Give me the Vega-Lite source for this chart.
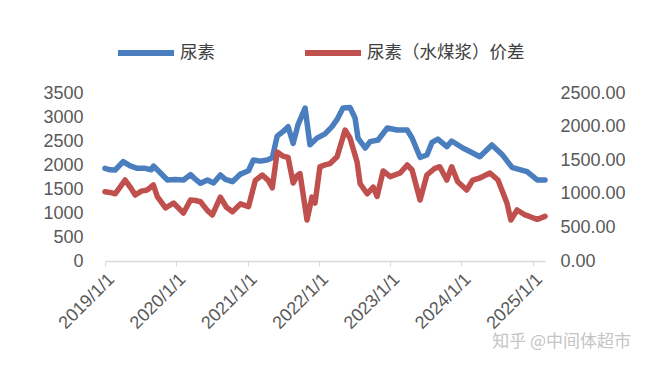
{
  "$schema": "https://vega.github.io/schema/vega-lite/v6.json",
  "width": 440,
  "height": 168,
  "autosize": "none",
  "padding": {"left": 105, "top": 93, "right": 104, "bottom": 106},
  "background": "white",
  "config": {"view": {"stroke": null}, "font": "Liberation Sans"},
  "title": {"text": "知乎 @中间体超市", "orient": "bottom", "anchor": "end", "frame": "bounds", "font": "Noto Sans CJK SC", "fontSize": 17, "fontWeight": "normal", "color": "#c4c4c4", "offset": 2, "dx": 6},
  "datasets": {
    "urea": [
      {"date": "2019-01-01", "value": 1930}, {"date": "2019-01-27", "value": 1900}, {"date": "2019-02-22", "value": 1896},
      {"date": "2019-04-04", "value": 2069}, {"date": "2019-05-10", "value": 1980}, {"date": "2019-06-15", "value": 1931},
      {"date": "2019-07-26", "value": 1930}, {"date": "2019-08-26", "value": 1900}, {"date": "2019-09-06", "value": 1979},
      {"date": "2019-10-01", "value": 1880}, {"date": "2019-11-17", "value": 1688}, {"date": "2019-12-28", "value": 1700},
      {"date": "2020-02-07", "value": 1688}, {"date": "2020-03-14", "value": 1800}, {"date": "2020-04-09", "value": 1700},
      {"date": "2020-05-04", "value": 1620}, {"date": "2020-06-09", "value": 1688}, {"date": "2020-07-10", "value": 1625},
      {"date": "2020-08-14", "value": 1792}, {"date": "2020-09-09", "value": 1700}, {"date": "2020-10-15", "value": 1652},
      {"date": "2020-11-25", "value": 1810}, {"date": "2021-01-05", "value": 1880}, {"date": "2021-01-30", "value": 2104},
      {"date": "2021-03-07", "value": 2080}, {"date": "2021-04-11", "value": 2104}, {"date": "2021-05-07", "value": 2150},
      {"date": "2021-06-01", "value": 2600}, {"date": "2021-07-02", "value": 2700}, {"date": "2021-07-27", "value": 2798},
      {"date": "2021-08-22", "value": 2450}, {"date": "2021-09-16", "value": 2840}, {"date": "2021-10-22", "value": 3188},
      {"date": "2021-11-16", "value": 2420}, {"date": "2021-12-22", "value": 2560}, {"date": "2022-02-01", "value": 2650},
      {"date": "2022-03-09", "value": 2800}, {"date": "2022-04-04", "value": 2950}, {"date": "2022-05-04", "value": 3188},
      {"date": "2022-06-09", "value": 3200}, {"date": "2022-07-05", "value": 2979}, {"date": "2022-07-20", "value": 2562},
      {"date": "2022-08-26", "value": 2354}, {"date": "2022-09-20", "value": 2486}, {"date": "2022-10-31", "value": 2521},
      {"date": "2022-12-17", "value": 2771}, {"date": "2023-02-06", "value": 2729}, {"date": "2023-03-29", "value": 2729},
      {"date": "2023-04-23", "value": 2562}, {"date": "2023-06-03", "value": 2160}, {"date": "2023-07-08", "value": 2208},
      {"date": "2023-08-03", "value": 2470}, {"date": "2023-09-02", "value": 2540}, {"date": "2023-10-18", "value": 2382},
      {"date": "2023-11-12", "value": 2500}, {"date": "2024-01-08", "value": 2354}, {"date": "2024-02-23", "value": 2260},
      {"date": "2024-04-04", "value": 2173}, {"date": "2024-06-05", "value": 2417}, {"date": "2024-07-27", "value": 2220},
      {"date": "2024-09-16", "value": 1950}, {"date": "2024-10-12", "value": 1920}, {"date": "2024-12-02", "value": 1861},
      {"date": "2025-01-23", "value": 1688}, {"date": "2025-03-04", "value": 1688}
    ],
    "spread": [
      {"date": "2019-01-01", "value": 1031}, {"date": "2019-01-27", "value": 1020}, {"date": "2019-02-22", "value": 1000},
      {"date": "2019-04-14", "value": 1205}, {"date": "2019-05-10", "value": 1100}, {"date": "2019-06-05", "value": 982},
      {"date": "2019-07-06", "value": 1040}, {"date": "2019-08-06", "value": 1057}, {"date": "2019-09-06", "value": 1131},
      {"date": "2019-09-26", "value": 957}, {"date": "2019-11-07", "value": 789}, {"date": "2019-12-18", "value": 863},
      {"date": "2020-02-07", "value": 714}, {"date": "2020-03-14", "value": 908}, {"date": "2020-04-09", "value": 900},
      {"date": "2020-05-04", "value": 882}, {"date": "2020-06-09", "value": 750}, {"date": "2020-07-04", "value": 685},
      {"date": "2020-08-14", "value": 950}, {"date": "2020-09-14", "value": 800}, {"date": "2020-10-15", "value": 734},
      {"date": "2020-11-25", "value": 850}, {"date": "2021-01-05", "value": 808}, {"date": "2021-02-09", "value": 1200},
      {"date": "2021-03-17", "value": 1280}, {"date": "2021-04-16", "value": 1200}, {"date": "2021-05-07", "value": 1090},
      {"date": "2021-06-01", "value": 1620}, {"date": "2021-07-02", "value": 1560}, {"date": "2021-07-27", "value": 1540},
      {"date": "2021-08-22", "value": 1161}, {"date": "2021-09-11", "value": 1270}, {"date": "2021-09-26", "value": 1300},
      {"date": "2021-11-01", "value": 610}, {"date": "2021-11-26", "value": 950}, {"date": "2021-12-12", "value": 863},
      {"date": "2022-01-06", "value": 1400}, {"date": "2022-02-01", "value": 1430}, {"date": "2022-02-27", "value": 1450},
      {"date": "2022-04-04", "value": 1552}, {"date": "2022-05-15", "value": 1949}, {"date": "2022-06-09", "value": 1830},
      {"date": "2022-07-15", "value": 1478}, {"date": "2022-07-31", "value": 1150}, {"date": "2022-09-05", "value": 1000},
      {"date": "2022-10-06", "value": 1100}, {"date": "2022-10-26", "value": 960}, {"date": "2022-11-26", "value": 1340},
      {"date": "2023-01-01", "value": 1255}, {"date": "2023-02-21", "value": 1310}, {"date": "2023-03-29", "value": 1429},
      {"date": "2023-04-23", "value": 1354}, {"date": "2023-06-03", "value": 908}, {"date": "2023-07-08", "value": 1280},
      {"date": "2023-08-18", "value": 1380}, {"date": "2023-09-12", "value": 1403}, {"date": "2023-10-18", "value": 1205},
      {"date": "2023-11-12", "value": 1403}, {"date": "2023-12-13", "value": 1180}, {"date": "2024-01-28", "value": 1057},
      {"date": "2024-02-28", "value": 1205}, {"date": "2024-04-04", "value": 1235}, {"date": "2024-05-26", "value": 1310},
      {"date": "2024-07-06", "value": 1205}, {"date": "2024-08-21", "value": 863}, {"date": "2024-09-10", "value": 610},
      {"date": "2024-10-12", "value": 759}, {"date": "2024-11-22", "value": 685}, {"date": "2024-12-18", "value": 659},
      {"date": "2025-01-23", "value": 620}, {"date": "2025-03-04", "value": 665}
    ]
  },
  "layer": [
    {
      "data": {"name": "urea"},
      "mark": {"type": "line", "strokeWidth": 5.5, "strokeJoin": "round", "strokeCap": "round"},
      "encoding": {
        "x": {
          "field": "date", "type": "temporal",
          "scale": {"domain": [{"year": 2019, "month": 1, "date": 1}, {"year": 2025, "month": 3, "date": 4}]},
          "axis": {
            "title": null, "grid": false, "format": "%Y/%-m/%-d",
            "values": [{"year": 2019, "month": 1, "date": 1}, {"year": 2020, "month": 1, "date": 1}, {"year": 2021, "month": 1, "date": 1}, {"year": 2022, "month": 1, "date": 1}, {"year": 2023, "month": 1, "date": 1}, {"year": 2024, "month": 1, "date": 1}, {"year": 2025, "month": 1, "date": 1}],
            "labelAngle": -45, "labelFontSize": 18, "labelColor": "#595959",
            "domainColor": "#d9d9d9", "domainWidth": 1.5, "tickColor": "#d9d9d9", "tickSize": 5, "labelPadding": 4
          }
        },
        "y": {
          "field": "value", "type": "quantitative",
          "scale": {"domain": [0, 3500]},
          "axis": {"title": null, "grid": false, "domain": false, "ticks": false, "format": "d", "values": [0, 500, 1000, 1500, 2000, 2500, 3000, 3500], "labelFontSize": 18, "labelColor": "#595959", "labelPadding": 22}
        },
        "color": {
          "datum": "尿素",
          "scale": {"domain": ["尿素", "尿素（水煤浆）价差"], "range": ["#4a7ebf", "#c0504d"]},
          "legend": {
            "title": null, "orient": "none", "legendX": 10, "legendY": -71, "direction": "horizontal",
            "symbolType": "stroke", "symbolStrokeWidth": 6, "symbolSize": 3136,
            "labelFont": "Noto Sans CJK SC", "labelFontSize": 17.5, "labelColor": "#404040",
            "columnPadding": 78, "labelOffset": 3
          }
        }
      }
    },
    {
      "data": {"name": "spread"},
      "mark": {"type": "line", "strokeWidth": 5.5, "strokeJoin": "round", "strokeCap": "round"},
      "encoding": {
        "x": {"field": "date", "type": "temporal"},
        "y": {
          "field": "value", "type": "quantitative",
          "scale": {"domain": [0, 2500]},
          "axis": {"orient": "right", "title": null, "grid": false, "domain": false, "ticks": false, "values": [0, 500, 1000, 1500, 2000, 2500], "format": ".2f", "labelFontSize": 18, "labelColor": "#595959", "labelPadding": 15}
        },
        "color": {"datum": "尿素（水煤浆）价差"}
      }
    }
  ],
  "resolve": {"scale": {"y": "independent"}}
}
